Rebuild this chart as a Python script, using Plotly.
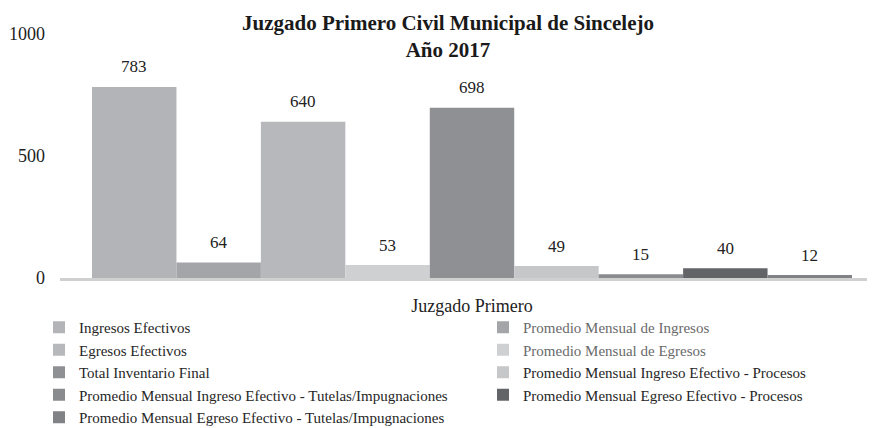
import plotly.graph_objects as go

# ---- data ----
category = "Juzgado Primero"
series_names = [
    "Ingresos Efectivos",
    "Promedio Mensual de Ingresos",
    "Egresos Efectivos",
    "Promedio Mensual de Egresos",
    "Total Inventario Final",
    "Promedio Mensual Ingreso Efectivo - Procesos",
    "Promedio Mensual Ingreso Efectivo - Tutelas/Impugnaciones",
    "Promedio Mensual Egreso Efectivo - Procesos",
    "Promedio Mensual Egreso Efectivo - Tutelas/Impugnaciones",
]
series_values = [783, 64, 640, 53, 698, 49, 15, 40, 12]
y_ticks = [0, 500, 1000]

# ---- styles ----
colors = ["#b3b4b7", "#a4a5a8", "#b7b8bb", "#cfd0d2", "#8f9093",
          "#c6c7c9", "#8a8b8e", "#636468", "#818285"]
light_text = {1, 3}
FONT = "Liberation Serif, Times New Roman, serif"
W, H = 867, 420  # page body has an 8px margin

fig = go.Figure()
positions = list(range(len(series_names)))
for i, (name, val) in enumerate(zip(series_names, series_values)):
    label = f"<span style='color:#6a6a6a'>{name}</span>" if i in light_text else name
    fig.add_trace(go.Bar(
        x=[positions[i]], y=[val], name=label, width=1,
        marker=dict(color=colors[i], line=dict(width=0)),
        legend="legend" if i % 2 == 0 else "legend2",
        hovertemplate=f"{name}: %{{y}}<extra></extra>",
    ))
    fig.add_annotation(x=positions[i], y=val, text=str(val), showarrow=False,
                       yshift=20, yanchor="middle", xanchor="center",
                       font=dict(family=FONT, size=17, color="#222222"))

legend_common = dict(orientation="v", xref="container", yref="container",
                     xanchor="left", yanchor="top", y=1 - 303 / H,
                     font=dict(family=FONT, size=15, color="#262626"),
                     bgcolor="rgba(0,0,0,0)", traceorder="normal",
                     tracegroupgap=0)

fig.update_layout(
    width=W, height=H,
    margin=dict(l=52, r=0, t=26, b=150, autoexpand=False),
    paper_bgcolor="white", plot_bgcolor="white",
    barmode="overlay",
    font=dict(family=FONT, color="#222222"),
    title=dict(text="<b>Juzgado Primero Civil Municipal de Sincelejo</b><br><b>Año 2017</b>",
               x=440 / W, xref="container", xanchor="center",
               y=1 - 22 / H, yref="container", yanchor="middle",
               font=dict(family=FONT, size=21, color="#1a1a1a")),
    xaxis=dict(range=[-0.5 - 32 / 84.44, len(series_names) - 0.5 + 23 / 84.44],
               tickvals=[(len(series_names) - 1) / 2], ticktext=[category],
               showgrid=False, zeroline=False, showline=True,
               linecolor="#d0d0d0", linewidth=3, ticks="",
               tickfont=dict(family=FONT, size=18, color="#222222"),
               ticklabelstandoff=9),
    yaxis=dict(range=[0, 1000], tickvals=y_ticks, showgrid=False, zeroline=False,
               showline=False, ticks="",
               tickfont=dict(family=FONT, size=18, color="#222222"),
               ticklabelstandoff=14),
    legend=dict(x=31 / W, **legend_common),
    legend2=dict(x=475 / W, **legend_common),
    showlegend=True,
)

fig.write_html("out.html")
